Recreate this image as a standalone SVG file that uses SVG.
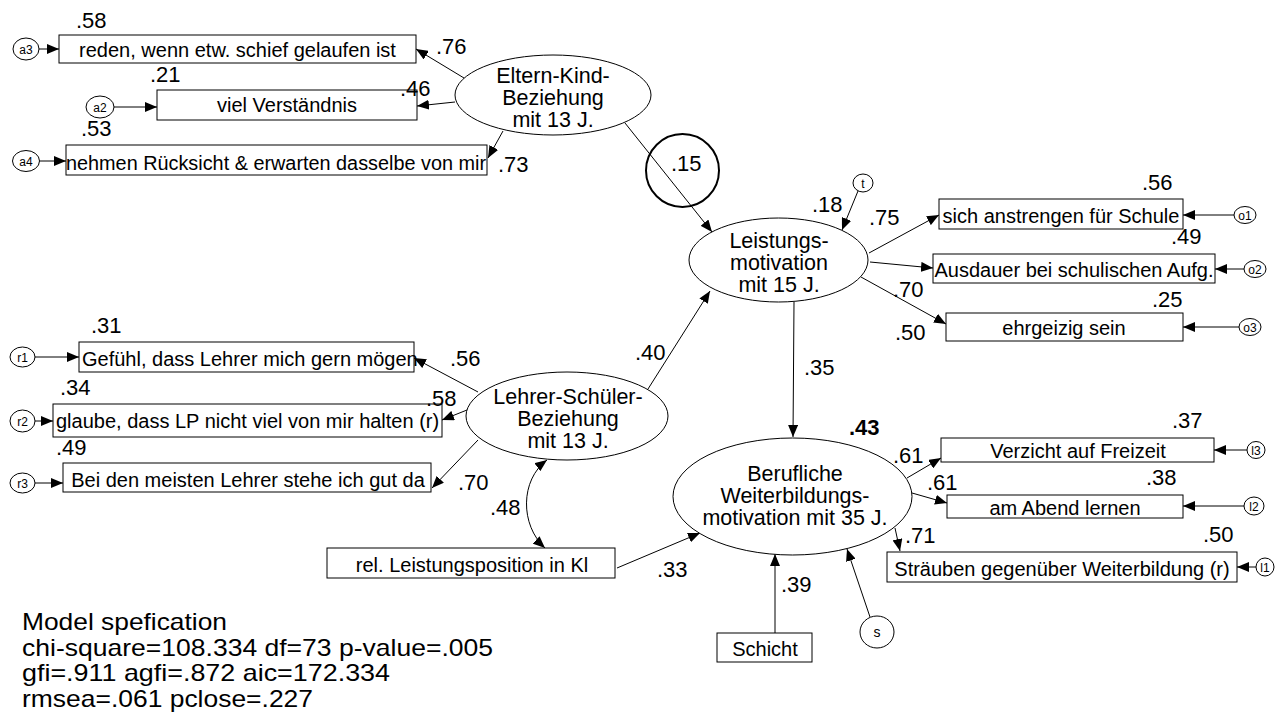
<svg xmlns="http://www.w3.org/2000/svg" width="1279" height="713" viewBox="0 0 1279 713">
<defs>
<marker id="ah" viewBox="0 0 12 10" refX="12" refY="5" markerWidth="12" markerHeight="10" markerUnits="userSpaceOnUse" orient="auto-start-reverse"><path d="M0,0 L12,5 L0,10 z" fill="#000"/></marker>
</defs>
<style>
text{font-family:"Liberation Sans",Arial,sans-serif;fill:#000}
.box{fill:#fff;stroke:#000;stroke-width:1}
.lat{fill:#fff;stroke:#000;stroke-width:1}
.res{fill:#fff;stroke:#000;stroke-width:1}
.bt{font-size:20px;text-anchor:middle}
.bs{font-size:20px}
.et{font-size:21.5px;text-anchor:middle}
.num{font-size:22px}
.sm{font-size:12px;text-anchor:middle}
.con line,.con path{stroke:#000;stroke-width:1;fill:none;marker-end:url(#ah)}
.fit{font-size:24px}
</style>
<rect width="1279" height="713" fill="#fff"/>

<g class="con" id="connectors">
<line x1="39" y1="49" x2="59" y2="49"/>
<line x1="114" y1="107" x2="157" y2="107"/>
<line x1="39.5" y1="161" x2="66" y2="161"/>
<line x1="35" y1="357" x2="79" y2="357"/>
<line x1="35" y1="421" x2="53" y2="421"/>
<line x1="35" y1="483" x2="63" y2="483"/>
<line x1="858" y1="191" x2="842" y2="230"/>
<line x1="1234" y1="215" x2="1183" y2="215"/>
<line x1="1244" y1="269" x2="1215" y2="269"/>
<line x1="1239" y1="327" x2="1183" y2="327"/>
<line x1="1247" y1="450" x2="1214" y2="450"/>
<line x1="1244" y1="506" x2="1183" y2="506"/>
<line x1="1256" y1="567" x2="1237" y2="567"/>
<line x1="870" y1="617" x2="847" y2="549"/>
<line x1="464" y1="78" x2="416" y2="49"/>
<line x1="455" y1="102" x2="417" y2="106"/>
<line x1="503" y1="131" x2="488" y2="158"/>
<line x1="625" y1="123" x2="712" y2="232"/>
<line x1="478" y1="392" x2="414" y2="358"/>
<line x1="467" y1="410" x2="442" y2="420"/>
<line x1="478" y1="440" x2="432" y2="488"/>
<line x1="648" y1="389" x2="710" y2="291"/>
<line x1="869" y1="253" x2="939" y2="215"/>
<line x1="870" y1="262" x2="933" y2="268"/>
<line x1="861" y1="277" x2="946" y2="324"/>
<line x1="794" y1="302" x2="793" y2="437"/>
<line x1="617" y1="568" x2="700" y2="533"/>
<line x1="775" y1="633" x2="775" y2="554"/>
<line x1="907" y1="478" x2="941" y2="458"/>
<line x1="912" y1="493" x2="947" y2="503"/>
<line x1="895" y1="528" x2="900" y2="551"/>
<path d="M545,548 C520,525 520,480 547,460" style="marker-start:url(#ah)"/>
</g>

<g id="highlight"><circle cx="682.5" cy="170.5" r="36.5" fill="none" stroke="#000" stroke-width="2"/></g>

<g id="ek"><ellipse class="lat" cx="553" cy="95" rx="98" ry="40"/>
<text class="et" x="553" y="83">Eltern-Kind-</text><text class="et" x="553" y="105">Beziehung</text><text class="et" x="553" y="127">mit 13 J.</text></g>
<g id="lm"><ellipse class="lat" cx="778.5" cy="260" rx="89.5" ry="42"/>
<text class="et" x="779" y="248">Leistungs-</text><text class="et" x="779" y="270">motivation</text><text class="et" x="779" y="292">mit 15 J.</text></g>
<g id="ls"><ellipse class="lat" cx="567" cy="416" rx="101" ry="44"/>
<text class="et" x="568" y="404">Lehrer-Schüler-</text><text class="et" x="568" y="426">Beziehung</text><text class="et" x="568" y="448">mit 13 J.</text></g>
<g id="bw"><ellipse class="lat" cx="792.5" cy="496.5" rx="119.5" ry="58.5"/>
<text class="et" x="795" y="481">Berufliche</text><text class="et" x="795" y="503">Weiterbildungs-</text><text class="et" x="795" y="525">motivation mit 35 J.</text></g>

<g id="a3box"><rect class="box" x="59" y="35" width="357" height="28"/><text class="bt" x="237.5" y="57">reden, wenn etw. schief gelaufen ist</text></g>
<g id="a2box"><rect class="box" x="157" y="90" width="260" height="30"/><text class="bt" x="287" y="112">viel Verständnis</text></g>
<g id="a4box"><rect class="box" x="66" y="145" width="421" height="30"/><text class="bs" x="66" y="170" textLength="420" lengthAdjust="spacingAndGlyphs">nehmen Rücksicht &amp; erwarten dasselbe von mir</text></g>
<g id="r1box"><rect class="box" x="79" y="342" width="335" height="30"/><text class="bs" x="82" y="366">Gefühl, dass Lehrer mich gern mögen</text></g>
<g id="r2box"><rect class="box" x="53" y="404" width="389" height="33"/><text class="bs" x="56" y="428">glaube, dass LP nicht viel von mir halten (r)</text></g>
<g id="r3box"><rect class="box" x="63" y="463" width="368" height="29"/><text class="bt" x="248" y="487">Bei den meisten Lehrer stehe ich gut da</text></g>
<g id="rel"><rect class="box" x="327" y="548" width="288" height="30"/><text class="bt" x="472" y="572">rel. Leistungsposition in Kl</text></g>
<g id="schicht"><rect class="box" x="717" y="633" width="95" height="29"/><text class="bt" x="765" y="656">Schicht</text></g>
<g id="o1box"><rect class="box" x="939" y="199" width="244" height="30"/><text class="bt" x="1061" y="223">sich anstrengen für Schule</text></g>
<g id="o2box"><rect class="box" x="933" y="254" width="282" height="29"/><text class="bt" x="1074" y="277">Ausdauer bei schulischen Aufg.</text></g>
<g id="o3box"><rect class="box" x="946" y="313" width="237" height="28"/><text class="bt" x="1064" y="335">ehrgeizig sein</text></g>
<g id="l3box"><rect class="box" x="941" y="438" width="273" height="24"/><text class="bt" x="1078" y="458">Verzicht auf Freizeit</text></g>
<g id="l2box"><rect class="box" x="947" y="495" width="236" height="23"/><text class="bt" x="1065" y="515">am Abend lernen</text></g>
<g id="l1box"><rect class="box" x="887" y="552" width="350" height="30"/><text class="bt" x="1062" y="576">Sträuben gegenüber Weiterbildung (r)</text></g>

<g id="a3"><ellipse class="res" cx="26" cy="49" rx="13" ry="11"/><text class="sm" x="26" y="53.5">a3</text></g>
<g id="a2"><ellipse class="res" cx="100" cy="107" rx="14" ry="11"/><text class="sm" x="100" y="111.5">a2</text></g>
<g id="a4"><ellipse class="res" cx="26" cy="161" rx="13.5" ry="10.5"/><text class="sm" x="26" y="165.5">a4</text></g>
<g id="r1"><ellipse class="res" cx="22.5" cy="357" rx="12.5" ry="10"/><text class="sm" x="22.5" y="361.5">r1</text></g>
<g id="r2"><ellipse class="res" cx="22.5" cy="421" rx="12.5" ry="11"/><text class="sm" x="22.5" y="425.5">r2</text></g>
<g id="r3"><ellipse class="res" cx="22.5" cy="483" rx="12.5" ry="10"/><text class="sm" x="22.5" y="487.5">r3</text></g>
<g id="t"><ellipse class="res" cx="863" cy="183" rx="10" ry="9"/><text class="sm" x="863" y="187.5">t</text></g>
<g id="o1"><ellipse class="res" cx="1245" cy="215" rx="11" ry="8.5"/><text class="sm" x="1245" y="219.5">o1</text></g>
<g id="o2"><ellipse class="res" cx="1255" cy="269" rx="11" ry="8.5"/><text class="sm" x="1255" y="273.5">o2</text></g>
<g id="o3"><ellipse class="res" cx="1250" cy="327" rx="11" ry="8.5"/><text class="sm" x="1250" y="331.5">o3</text></g>
<g id="l3"><ellipse class="res" cx="1256" cy="450" rx="9" ry="8.5"/><text class="sm" x="1256" y="454.5">l3</text></g>
<g id="l2"><ellipse class="res" cx="1254" cy="506" rx="10" ry="9"/><text class="sm" x="1254" y="510.5">l2</text></g>
<g id="l1"><ellipse class="res" cx="1265" cy="567" rx="9" ry="9"/><text class="sm" x="1265" y="571.5">l1</text></g>
<g id="s"><ellipse class="res" cx="877" cy="632" rx="17" ry="16"/><text class="sm" x="877" y="637" style="font-size:14px">s</text></g>

<g id="labels">
<text class="num" x="76" y="28">.58</text>
<text class="num" x="436" y="54">.76</text>
<text class="num" x="150" y="82">.21</text>
<text class="num" x="400" y="96">.46</text>
<text class="num" x="81" y="136">.53</text>
<text class="num" x="498" y="172">.73</text>
<text class="num" x="671" y="171">.15</text>
<text class="num" x="812" y="212">.18</text>
<text class="num" x="869" y="225">.75</text>
<text class="num" x="1142" y="190">.56</text>
<text class="num" x="1171" y="244">.49</text>
<text class="num" x="893" y="297">.70</text>
<text class="num" x="1152" y="307">.25</text>
<text class="num" x="895" y="340">.50</text>
<text class="num" x="91" y="333">.31</text>
<text class="num" x="450" y="366">.56</text>
<text class="num" x="60" y="395">.34</text>
<text class="num" x="426" y="406">.58</text>
<text class="num" x="56" y="455">.49</text>
<text class="num" x="458" y="490">.70</text>
<text class="num" x="635" y="360">.40</text>
<text class="num" x="804" y="375">.35</text>
<text class="num" x="490" y="515">.48</text>
<text class="num" x="657" y="577">.33</text>
<text class="num" x="781" y="592">.39</text>
<text class="num" x="849" y="435" font-weight="bold">.43</text>
<text class="num" x="1172" y="428">.37</text>
<text class="num" x="893" y="463">.61</text>
<text class="num" x="927" y="490">.61</text>
<text class="num" x="1146" y="485">.38</text>
<text class="num" x="905" y="543">.71</text>
<text class="num" x="1203" y="542">.50</text>
</g>

<g id="fit">
<text class="fit" x="22" y="630" textLength="205" lengthAdjust="spacingAndGlyphs">Model spefication</text>
<text class="fit" x="22" y="656" textLength="471" lengthAdjust="spacingAndGlyphs">chi-square=108.334 df=73 p-value=.005</text>
<text class="fit" x="22" y="681" textLength="368" lengthAdjust="spacingAndGlyphs">gfi=.911 agfi=.872 aic=172.334</text>
<text class="fit" x="22" y="707" textLength="291" lengthAdjust="spacingAndGlyphs">rmsea=.061 pclose=.227</text>
</g>
</svg>
